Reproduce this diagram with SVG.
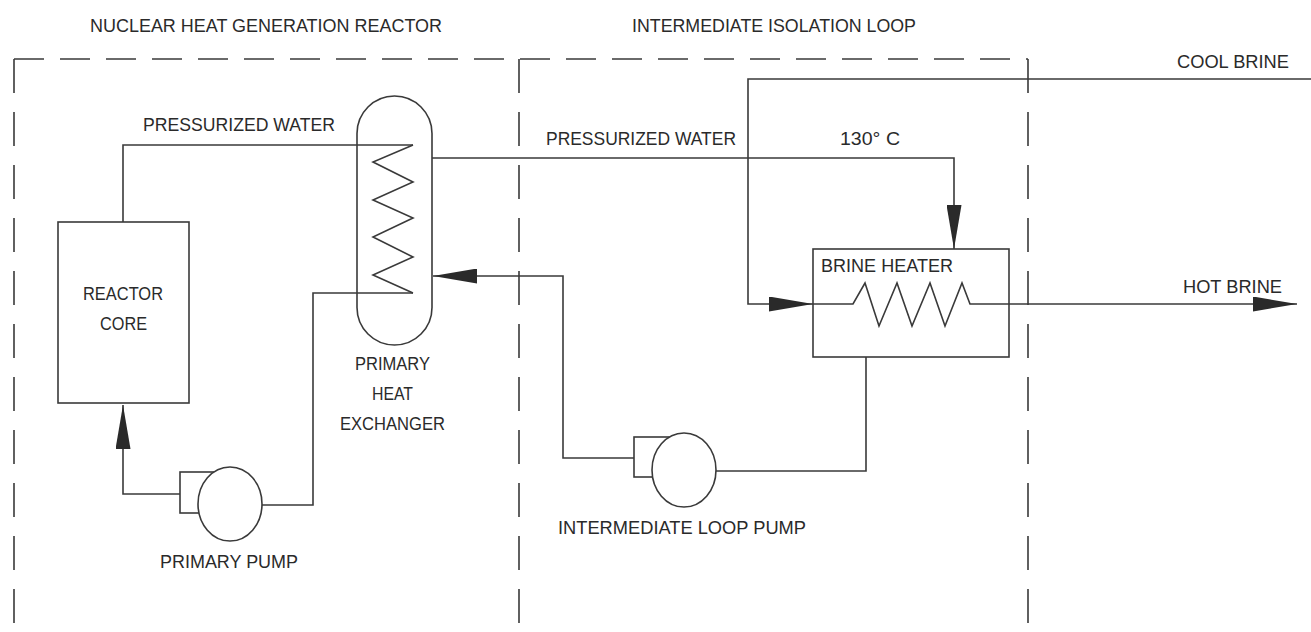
<svg xmlns="http://www.w3.org/2000/svg" width="1311" height="632" viewBox="0 0 1311 632">
<style>
text{font-family:"Liberation Sans",Arial,sans-serif;font-size:18px;fill:#2a2a2a}
.ln{fill:none;stroke:#3a3a3a;stroke-width:1.6}
.bd{fill:none;stroke:#3a3a3a;stroke-width:1.6;stroke-dasharray:30 16}
.bv{fill:none;stroke:#3a3a3a;stroke-width:1.6;stroke-dasharray:34 19}
.sh{fill:#fff;stroke:#3a3a3a;stroke-width:1.6}
</style>
<defs>
<marker id="arr" viewBox="0 0 44 15" refX="44" refY="7.5" markerWidth="44" markerHeight="15" markerUnits="userSpaceOnUse" orient="auto">
<path d="M0,0 L44,7.5 L0,15 Z" fill="#2a2a2a"/>
</marker>
</defs>
<rect width="1311" height="632" fill="#fff"/>
<g id="boundaries">
<path class="bd" d="M14,59 H1028"/>
<path class="bv" d="M14,59 V632"/>
<path class="bv" d="M519,59 V632"/>
<path class="bv" d="M1028,59 V632"/>
<text x="90" y="32" textLength="352" lengthAdjust="spacingAndGlyphs">NUCLEAR HEAT GENERATION REACTOR</text>
<text x="632" y="32" textLength="284" lengthAdjust="spacingAndGlyphs">INTERMEDIATE ISOLATION LOOP</text>
</g>
<g id="connectors">
<path class="ln" d="M123,222 V145 H413"/>
<path class="ln" d="M413,293 H313 V505 H262"/>
<path class="ln" d="M180,494 H123 V405" marker-end="url(#arr)"/>
<path class="ln" d="M432,158 H954 V249" marker-end="url(#arr)"/>
<path class="ln" d="M634,458 H563 V276 H433" marker-end="url(#arr)"/>
<path class="ln" d="M716,471 H866 V357"/>
<path class="ln" d="M1311,79 H748 V304 H813" marker-end="url(#arr)"/>
<path class="ln" d="M1009,304 H1297" marker-end="url(#arr)"/>
<text x="143" y="131" textLength="192" lengthAdjust="spacingAndGlyphs">PRESSURIZED WATER</text>
<text x="546" y="145" textLength="190" lengthAdjust="spacingAndGlyphs">PRESSURIZED WATER</text>
<text x="840" y="145" textLength="60" lengthAdjust="spacingAndGlyphs">130° C</text>
<text x="1177" y="68" textLength="112" lengthAdjust="spacingAndGlyphs">COOL BRINE</text>
<text x="1183" y="293" textLength="99" lengthAdjust="spacingAndGlyphs">HOT BRINE</text>
</g>
<g id="reactor-core">
<rect class="sh" x="58" y="222" width="131" height="181"/>
<text x="83" y="300" textLength="80" lengthAdjust="spacingAndGlyphs">REACTOR</text>
<text x="100" y="330" textLength="47" lengthAdjust="spacingAndGlyphs">CORE</text>
</g>
<g id="primary-heat-exchanger">
<rect class="ln" x="357" y="96" width="75" height="249" rx="37.5" ry="37.5"/>
<polyline class="ln" points="413,145 373,162 413,182 373,200 413,218 373,237 413,257 373,275 413,293"/>
<text x="355" y="370" textLength="75" lengthAdjust="spacingAndGlyphs">PRIMARY</text>
<text x="372" y="400" textLength="41" lengthAdjust="spacingAndGlyphs">HEAT</text>
<text x="340" y="430" textLength="105" lengthAdjust="spacingAndGlyphs">EXCHANGER</text>
</g>
<g id="primary-pump">
<rect class="sh" x="180" y="472" width="35" height="41"/>
<ellipse class="sh" cx="230" cy="504" rx="32" ry="37"/>
<text x="160" y="568" textLength="138" lengthAdjust="spacingAndGlyphs">PRIMARY PUMP</text>
</g>
<g id="intermediate-loop-pump">
<rect class="sh" x="634" y="437" width="35" height="40"/>
<ellipse class="sh" cx="684" cy="470" rx="32" ry="37"/>
<text x="558" y="534" textLength="248" lengthAdjust="spacingAndGlyphs">INTERMEDIATE LOOP PUMP</text>
</g>
<g id="brine-heater">
<rect class="ln" x="813" y="249" width="196" height="108"/>
<polyline class="ln" points="813,304 853,304 865,283 879,326 897,283 912,326 930,283 945,326 962,283 970,304 1009,304"/>
<text x="821" y="272" textLength="132" lengthAdjust="spacingAndGlyphs">BRINE HEATER</text>
</g>
</svg>
